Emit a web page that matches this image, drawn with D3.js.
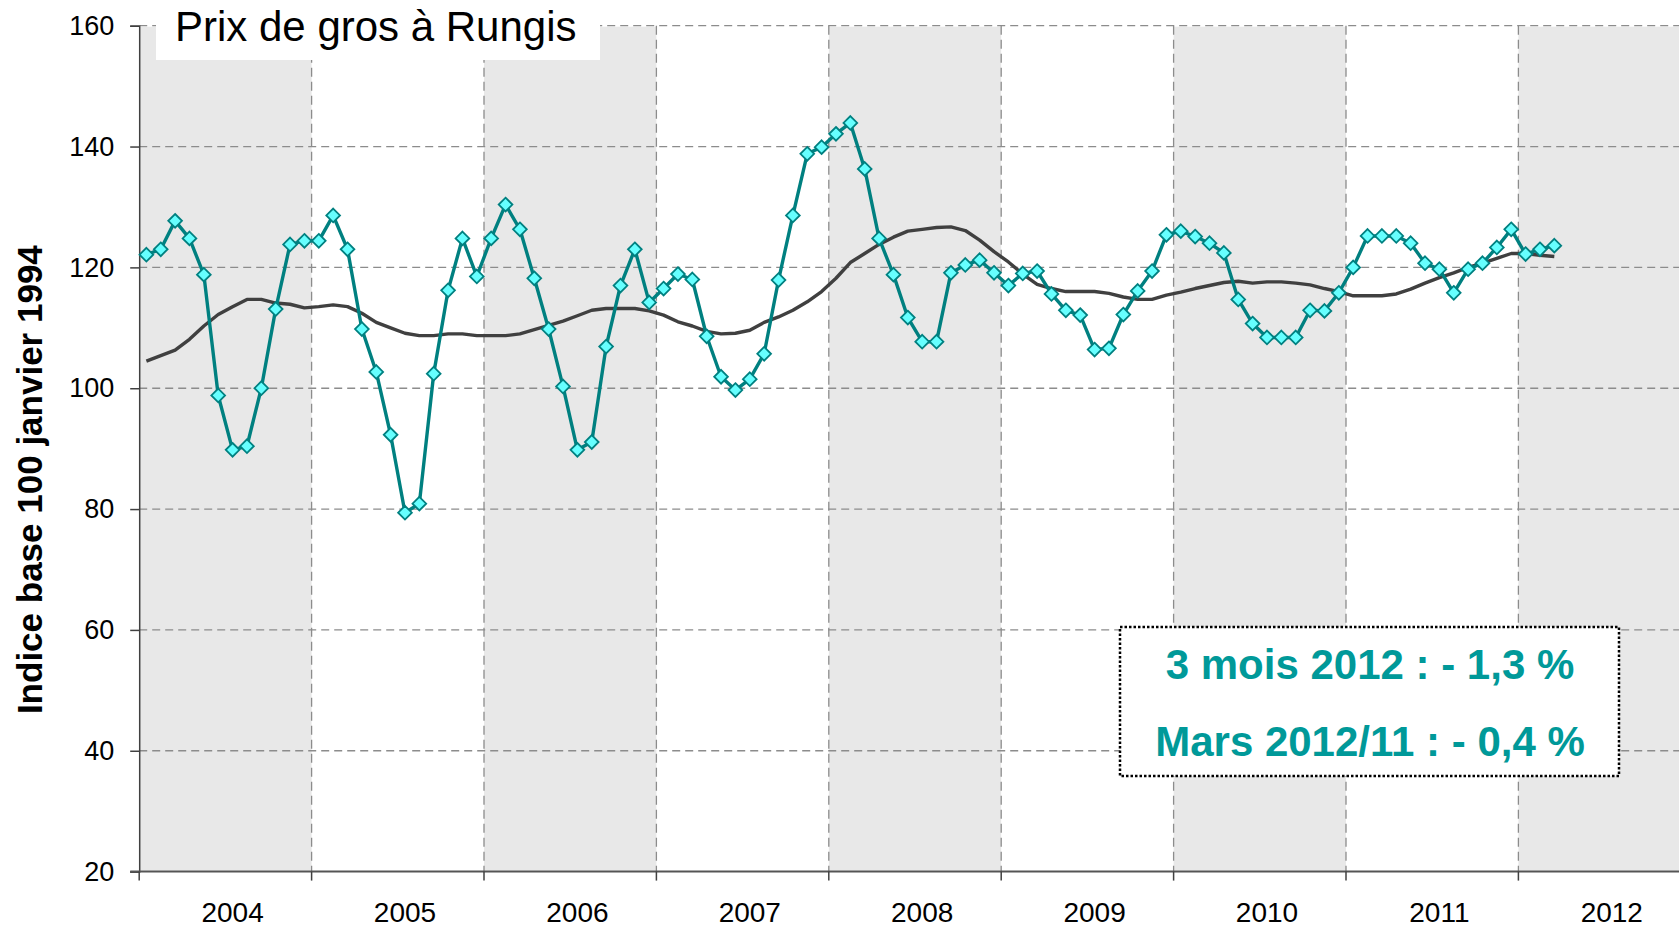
<!DOCTYPE html>
<html><head><meta charset="utf-8">
<script src="https://cdn.jsdelivr.net/npm/d3@7/dist/d3.min.js"></script>
<style>
body{margin:0;background:#fff;overflow:hidden;}
svg{display:block;}
text{font-family:"Liberation Sans",Arial,Helvetica,sans-serif;}
</style>
</head><body>
<svg id="c" width="1679" height="928"></svg>
<script>
// ---- data ----
const years = ["2004","2005","2006","2007","2008","2009","2010","2011","2012"];
const yTicks = [20,40,60,80,100,120,140,160];
const prix = [
  122.1,123.0,127.7,124.8,118.8,98.8,89.8,90.4,100.0,113.1,123.8,124.4,
  124.4,128.6,123.0,109.8,102.7,92.3,79.4,80.9,102.4,116.2,124.8,118.5,
  124.8,130.4,126.3,118.2,109.8,100.3,89.8,91.1,106.9,117.0,123.0,114.2,
  116.5,118.9,118.0,108.6,101.9,99.7,101.5,105.7,117.9,128.6,138.8,139.9,
  142.1,143.9,136.3,124.8,118.8,111.7,107.7,107.7,119.1,120.4,121.2,119.1,
  117.0,119.0,119.4,115.6,112.9,112.1,106.4,106.6,112.2,116.1,119.4,125.4,
  126.0,125.1,124.0,122.4,114.7,110.7,108.4,108.4,108.4,112.9,112.8,115.8,
  120.0,125.2,125.2,125.2,124.0,120.7,119.7,115.8,119.7,120.7,123.3,126.3,
  122.2,123.0,123.6
];
const moyenne = [
  104.5,105.4,106.3,108.1,110.3,112.2,113.5,114.7,114.7,114.1,113.9,113.3,
  113.5,113.8,113.5,112.4,110.9,110.0,109.1,108.7,108.7,109.0,109.0,108.7,
  108.7,108.7,109.0,109.7,110.4,111.1,112.0,112.9,113.2,113.2,113.2,112.8,
  112.1,111.0,110.3,109.4,109.0,109.1,109.6,110.9,111.8,112.9,114.3,116.0,
  118.2,120.8,122.3,123.8,125.0,126.0,126.3,126.6,126.7,126.1,124.5,122.6,
  120.9,118.9,117.2,116.5,116.0,116.0,116.0,115.7,115.1,114.7,114.7,115.4,
  115.9,116.5,117.0,117.5,117.7,117.4,117.6,117.6,117.4,117.1,116.5,116.0,
  115.3,115.3,115.3,115.6,116.4,117.4,118.3,119.1,120.0,120.7,121.5,122.3,
  122.3,122.0,121.8
];
const title = "Prix de gros à Rungis";
const yTitle = "Indice base 100 janvier 1994";
const notes = ["3 mois 2012 : - 1,3 %", "Mars 2012/11 : - 0,4 %"];

// ---- layout ----
const X0 = 139.2, X1 = 1690.8, YTOP = 25.7, YBOT = 871.6;
const months = years.flatMap(yr => d3.range(12).map(m => yr + "-" + (m + 1)));
const x = d3.scaleBand().domain(months).range([X0, X1]).padding(0);
const xYear = d3.scaleBand().domain(years).range([X0, X1]).padding(0);
const y = d3.scaleLinear().domain([20, 160]).range([YBOT, YTOP]);
const cx = i => x(months[i]) + x.bandwidth() / 2;

const svg = d3.select("#c");

// alternating year bands
svg.append("g").selectAll("rect").data(years.filter((d, i) => i % 2 === 0)).join("rect")
  .attr("x", d => xYear(d)).attr("y", y(160) + 1)
  .attr("width", xYear.bandwidth()).attr("height", y(20) - y(160) - 2)
  .attr("fill", "#e8e8e8");

// horizontal gridlines
svg.append("g").selectAll("line").data(yTicks.filter(t => t > 20)).join("line")
  .attr("x1", X0).attr("x2", X1).attr("y1", d => y(d)).attr("y2", d => y(d))
  .attr("stroke", "#8c8c8c").attr("stroke-width", 1.3).attr("stroke-dasharray", "8,5");

// vertical gridlines at year boundaries
svg.append("g").selectAll("line").data(years.slice(1)).join("line")
  .attr("x1", d => xYear(d)).attr("x2", d => xYear(d)).attr("y1", y(160)).attr("y2", y(20))
  .attr("stroke", "#8c8c8c").attr("stroke-width", 1.3).attr("stroke-dasharray", "9,5");

// y axis
const yAxis = svg.append("g").attr("transform", `translate(${X0},0)`)
  .call(d3.axisLeft(y).tickValues(yTicks).tickSize(9).tickPadding(16).tickFormat(d3.format("d")));
yAxis.select(".domain").attr("stroke", "#404040").attr("stroke-width", 1.5);
yAxis.selectAll(".tick line").attr("stroke", "#404040").attr("stroke-width", 1.5);
yAxis.selectAll(".tick text").attr("font-size", 27).attr("fill", "#000")
  .attr("font-family", "Liberation Sans, Arial, sans-serif");

// x axis
const gx = svg.append("g");
gx.append("line").attr("x1", X0 - 9).attr("x2", X1).attr("y1", y(20)).attr("y2", y(20))
  .attr("stroke", "#555").attr("stroke-width", 2);
gx.selectAll("line.tk").data(years).join("line").attr("class", "tk")
  .attr("x1", d => xYear(d)).attr("x2", d => xYear(d))
  .attr("y1", y(20)).attr("y2", y(20) + 9)
  .attr("stroke", "#404040").attr("stroke-width", 1.5);
gx.selectAll("text").data(years).join("text")
  .attr("x", d => x(d + "-7") + x.bandwidth() / 2)
  .attr("y", 922).attr("text-anchor", "middle").attr("font-size", 28).attr("fill", "#000")
  .text(d => d);

// y axis title
svg.append("text")
  .attr("transform", `translate(42,${(y(160) + y(20)) / 2 + 31}) rotate(-90)`)
  .attr("text-anchor", "middle").attr("font-size", 35).attr("font-weight", "bold").attr("fill", "#000")
  .text(yTitle);

// title box
svg.append("rect").attr("x", 156).attr("y", 0).attr("width", 444).attr("height", 60).attr("fill", "#fff");
svg.append("text").attr("x", 175).attr("y", 41).attr("font-size", 42).attr("fill", "#000").text(title);

// annotation box
svg.append("rect").attr("x", 1120).attr("y", 627).attr("width", 499).attr("height", 149)
  .attr("fill", "#fff").attr("stroke", "#000").attr("stroke-width", 2.5).attr("stroke-dasharray", "2.5,2");
svg.selectAll("text.note").data(notes).join("text").attr("class", "note")
  .attr("x", 1370).attr("y", (d, i) => 679 + i * 77)
  .attr("text-anchor", "middle").attr("font-size", 42).attr("font-weight", "bold").attr("fill", "#009999")
  .text(d => d);

// moving average line
const line = d3.line().x((d, i) => cx(i)).y(d => y(d));
svg.append("path").datum(moyenne).attr("d", line)
  .attr("fill", "none").attr("stroke", "#404040").attr("stroke-width", 3.4).attr("stroke-linejoin", "round");

// price line
const line2 = d3.line().x((d, i) => cx(i)).y(d => y(d));
svg.append("path").datum(prix).attr("d", line2)
  .attr("fill", "none").attr("stroke", "#008080").attr("stroke-width", 3.4).attr("stroke-linejoin", "round");

// diamond markers
const diamond = d3.symbol().type(d3.symbolDiamond2).size(120);
svg.append("g").selectAll("path").data(prix).join("path")
  .attr("transform", (d, i) => `translate(${cx(i)},${y(d)})`)
  .attr("d", diamond)
  .attr("fill", "#66ffff").attr("stroke", "#008080").attr("stroke-width", 1.8);
</script>
</body></html>
